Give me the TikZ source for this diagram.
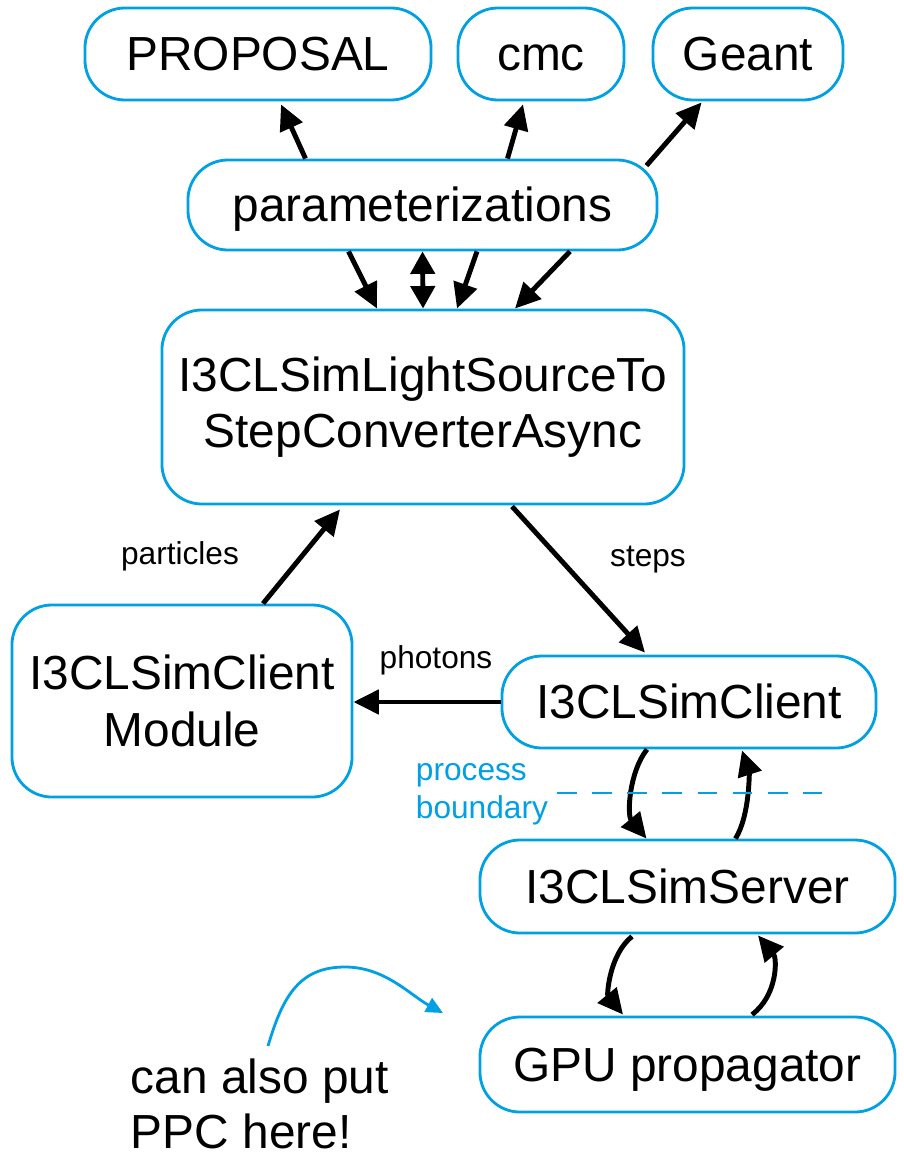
\documentclass[tikz,border=0pt]{standalone}
\usepackage{fontspec}
\setmainfont{Liberation Sans}
\usetikzlibrary{arrows.meta,calc}
\definecolor{boxblue}{RGB}{0,160,227}

\begin{document}
\begin{tikzpicture}[x=0.025cm, y=-0.025cm,
  box/.style={draw=boxblue, line width=2pt, rounded corners=1cm, align=center,
    inner sep=0pt, font=\fontsize{34}{40}\selectfont},
  oneline/.style={text height=24pt, text depth=0pt},
  flow/.style={line width=3.5pt, -{Triangle[length=18pt,width=17pt]}},
  both/.style={line width=3.5pt, {Triangle[length=16pt,width=17pt]}-{Triangle[length=16pt,width=17pt]}},
  lbl/.style={font=\fontsize{22.5}{27}\selectfont},
  hint/.style={boxblue, line width=2pt, -{Triangle[length=12pt,width=11pt]}}]
\useasboundingbox (0,0) rectangle (903,1161);
\node[box, oneline, minimum width=8.65cm, minimum height=2.3cm] (P_prop) at (258,54) {PROPOSAL};
\node[box, oneline, minimum width=4.15cm, minimum height=2.3cm] (P_cmc) at (541,54) {cmc};
\node[box, oneline, minimum width=4.75cm, minimum height=2.3cm] (P_geant) at (748,54) {Geant};
\node[box, oneline, minimum width=11.725cm, minimum height=2.25cm] (P_param) at (422.5,205) {parameterizations};
\node[box, minimum width=13.05cm, minimum height=4.85cm] (P_conv) at (423,407) {I3CLSimLightSourceTo\\StepConverterAsync};
\node[box, minimum width=8.5cm, minimum height=4.8cm] (P_module) at (182,701) {I3CLSimClient\\Module};
\node[box, oneline, minimum width=9.35cm, minimum height=2.3cm] (P_client) at (689,702) {I3CLSimClient};
\node[box, oneline, minimum width=10.375cm, minimum height=2.325cm] (P_server) at (687.5,886.5) {I3CLSimServer};
\node[box, oneline, minimum width=10.375cm, minimum height=2.375cm] (P_gpu) at (687.5,1064.5) {GPU propagator};
% parameterizations call out to the three packages
\draw[flow] ($(P_param.north)+(-117,0)$) -- ($(P_prop.south)+(23,3)$);
\draw[flow] ($(P_param.north)+(85,0)$) -- ($(P_cmc.south)+(-18,3)$);
\draw[flow] ($(P_param.north east)+(-12,7)$) -- ($(P_geant.south west)+(50,1)$);
\draw[flow] ($(P_param.south)+(-74,0)$) -- ($(P_conv.north)+(-46,0)$);
\draw[both] (P_param.south) -- (P_conv.north);
\draw[flow] ($(P_param.south)+(54.5,0)$) -- ($(P_conv.north)+(34,0)$);
\draw[flow] ($(P_param.south)+(147.5,0)$) -- ($(P_conv.north)+(92,0)$);
% main loop
\draw[flow] ($(P_module.north)+(81,0)$) -- ($(P_conv.south)+(-83,4)$);
\node[lbl] (L_particles) at (180,556) {particles};
\draw[flow] ($(P_conv.south)+(89,1)$) -- ($(P_client.north)+(-44,-2)$);
\node[lbl] (L_steps) at (648,560) {steps};
\draw[flow] (P_client.west) -- (P_client.west -| P_module.east);
\node[lbl] (L_photons) at (436,660) {photons};
% client/server and server/gpu round trips
\draw[flow] ($(P_client.south)+(-42,0)$) .. controls (629,772) and (627,815) .. ($(P_server.north)+(-41,0)$);
\draw[flow] ($(P_server.north)+(48,0)$) .. controls (750,815) and (749,772) .. ($(P_client.south)+(53,1)$);
\draw[flow] ($(P_server.south)+(-55.5,2)$) .. controls (609,955) and (607,995) .. ($(P_gpu.north)+(-64.5,-1)$);
\draw[flow] ($(P_gpu.north)+(64.5,-1)$) .. controls (778,995) and (777,958) .. ($(P_server.south)+(70.5,1)$);
\draw[boxblue, line width=2pt, dash pattern=on 14pt off 11pt] (557,793) -- (822,793);
\node[lbl, boxblue, align=left, anchor=base west] (L_boundary) at (411,818) {process\\boundary};
% note with its pointer
\node[font=\fontsize{34}{39}\selectfont, align=left, anchor=base west] (P_note) at (126,1148) {can also put\\PPC here!};
\coordinate (C_from) at (268,1046);
\coordinate (C_to) at (443,1013);
\draw[hint] (C_from) .. controls (283,995) and (300,967) .. (345,967) .. controls (385,967) and (410,995) .. (C_to);
\end{tikzpicture}
\end{document}
